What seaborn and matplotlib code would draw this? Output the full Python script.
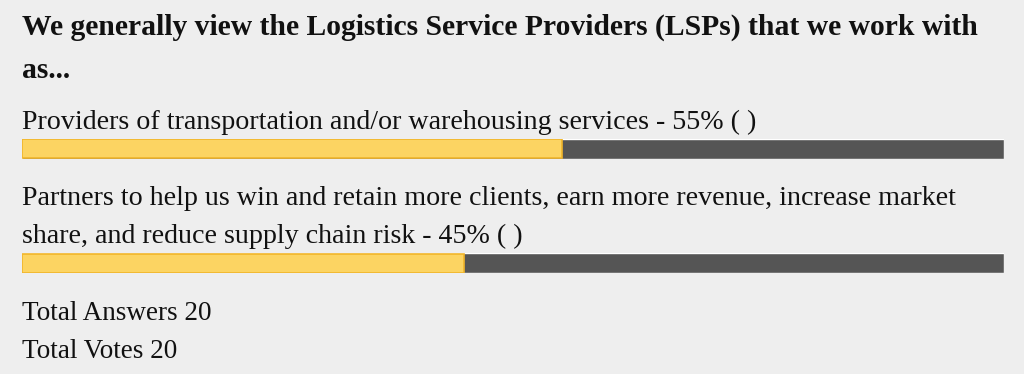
"""
Poll result card: how shippers view their Logistics Service Providers.
"""

import textwrap
import pandas as pd
import matplotlib
matplotlib.use("Agg")
import matplotlib.pyplot as plt
import seaborn as sns

# Poll data
QUESTION = "We generally view the Logistics Service Providers (LSPs) that we work with as..."
OPTIONS = [
    "Providers of transportation and/or warehousing services",
    "Partners to help us win and retain more clients, earn more revenue, "
    "increase market share, and reduce supply chain risk",
]
PERCENTS = [55, 45]
TOTAL_ANSWERS = 20
TOTAL_VOTES = 20

BG = "#eeeeee"
YELLOW = "#fcd462"
YELLOW_EDGE = "#f1b52a"
TRACK = "#555555"

W, H = 1024, 374
LEFT, RIGHT = 22, 1004
BAR_H = 20

sns.set_theme(style="white")
plt.rcParams["font.family"] = ["Liberation Serif", "DejaVu Serif"]

fig = plt.figure(figsize=(W / 100, H / 100), dpi=100, facecolor=BG)


def put_text(y_px, s, size, weight="normal"):
    fig.text(LEFT / W, 1 - y_px / H, s, fontsize=size, fontweight=weight,
             color="#111111", ha="left", va="baseline")


def draw_bar(top_px, pct):
    ax = fig.add_axes([LEFT / W, 1 - (top_px + BAR_H) / H, (RIGHT - LEFT) / W, BAR_H / H])
    df = pd.DataFrame({"row": ["a"], "total": [100], "pct": [pct]})
    sns.barplot(data=df, x="total", y="row", orient="h", color=TRACK,
                width=1, saturation=1, ax=ax)
    sns.barplot(data=df, x="pct", y="row", orient="h", color=YELLOW,
                width=0.95, saturation=1, edgecolor=YELLOW_EDGE, linewidth=1.2, ax=ax)
    ax.set_xlim(0, 100)
    ax.set_ylim(0.5, -0.5)
    ax.axis("off")


# question title
for i, line in enumerate(textwrap.wrap(QUESTION, 74)):
    put_text(35 + i * 43, line, 21.3, "bold")

# options with bars
y = 129
for label, pct in zip(OPTIONS, PERCENTS):
    lines = textwrap.wrap(f"{label} - {pct}% ( )", 85)
    for line in lines:
        put_text(y, line, 20.2)
        y += 38
    bar_top = y - 38 + 10
    draw_bar(bar_top, pct)
    y = bar_top + BAR_H + 46

put_text(320, f"Total Answers {TOTAL_ANSWERS}", 19.5)
put_text(358, f"Total Votes {TOTAL_VOTES}", 19.5)

fig.savefig("out.png", dpi=100, facecolor=BG)
